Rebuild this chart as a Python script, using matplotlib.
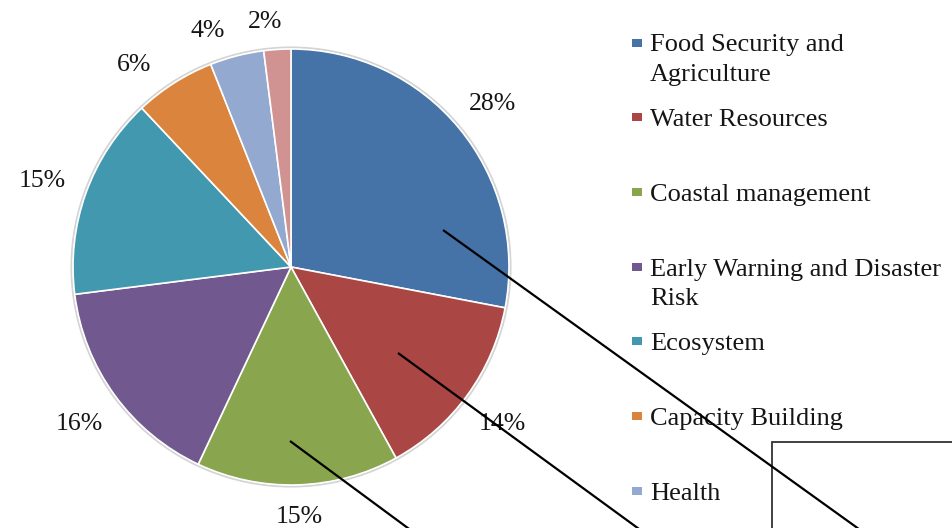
import numpy as np
from matplotlib import pyplot as plt
from matplotlib.patches import Rectangle, Circle

sectors = ["Food Security and\nAgriculture", "Water Resources", "Coastal management",
           "Early Warning and Disaster\nRisk", "Ecosystem", "Capacity Building", "Health", "Other"]
shares = [28, 14, 15, 16, 15, 6, 4, 2]
colors = ["#4572A7", "#AA4643", "#89A54E", "#71588F", "#4198AF", "#DB843D", "#93A9CF", "#D19392"]
# only the first seven sectors appear in the legend
legend_count = 7

W, H = 952, 528
Y = lambda py: H - py  # pixel rows measured from the top

plt.rcParams['font.family'] = ['Liberation Serif', 'DejaVu Serif']
fig = plt.figure(figsize=(W / 100, H / 100), dpi=100)
ax = fig.add_axes([0, 0, 1, 1])

cx, cy, r = 291, Y(267), 218

# faint rim around the pie
ax.add_patch(Circle((cx, cy), r + 1.5, facecolor='none', edgecolor='#d4d4d4', lw=1.5, zorder=0))

wedges, _, pct = ax.pie(shares, colors=colors, startangle=90, counterclock=False,
                        radius=r, center=(cx, cy), autopct='%1.0f%%', pctdistance=1.15,
                        wedgeprops=dict(edgecolor='white', linewidth=1.2),
                        textprops=dict(fontsize=18.5, color='#151515'))

# outside-end labels; thin slices get pushed a little counter-clockwise so they don't collide
for w, s, t in zip(wedges, shares, pct):
    mid = (w.theta1 + w.theta2) / 2
    if s < 10:
        mid += min(5.0, 1.2 * s)
    a = np.deg2rad(mid)
    dist = 247 + 18 * abs(np.cos(a))
    t.set_position((cx + dist * np.cos(a), cy + dist * np.sin(a) - 9))
    t.set_ha('center')
    t.set_va('baseline')

# legend drawn by hand to keep the uneven row layout
for k in range(legend_count):
    base = 51.5 + 74.7 * k
    ax.add_patch(Rectangle((632, Y(base - 5)), 10, 8, facecolor=colors[k], edgecolor='none'))
    for i, line in enumerate(sectors[k].split("\n")):
        ax.text(650, Y(base + 29 * i), line, fontsize=19, color='#151515',
                ha='left', va='baseline')

# callout leaders running off the bottom edge
leaders = [((443, 230), (870, 537)), ((398, 353), (650, 537)), ((290, 441), (420, 537))]
for (x0, y0), (x1, y1) in leaders:
    ax.plot([x0, x1], [Y(y0), Y(y1)], color='black', lw=1.6, zorder=5, solid_capstyle='butt')

ax.add_patch(Rectangle((772, Y(560)), 300, 118, facecolor='none', edgecolor='#333333', lw=1.3, zorder=4))

ax.set_xlim(0, W)
ax.set_ylim(0, H)
ax.set_aspect('equal')
ax.axis('off')

fig.savefig('out.png', dpi=100)
